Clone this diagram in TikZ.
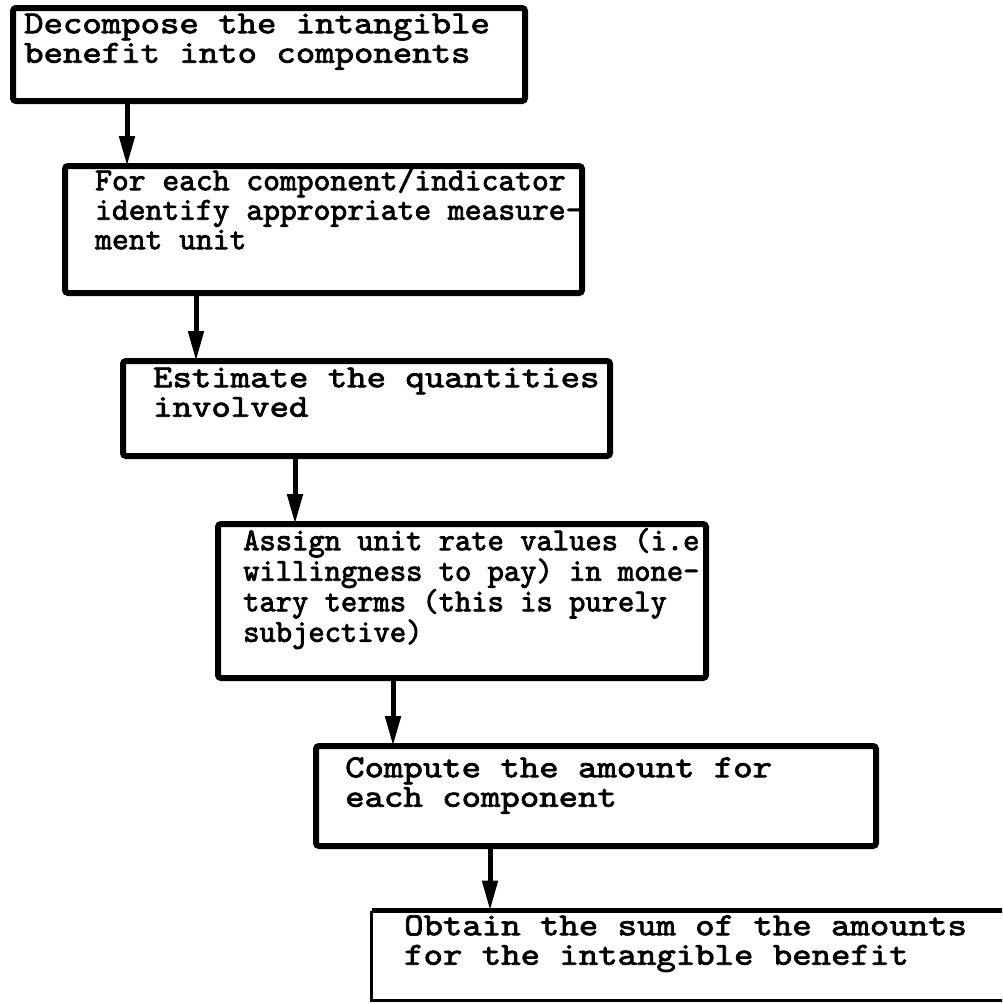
\documentclass[tikz,border=0pt]{standalone}
\usepackage{fontspec}
\newfontfamily\courwide{lmmono10-regular.otf}[FakeStretch=1.155, FakeBold=2.4]
\newfontfamily\courA{lmmono10-regular.otf}[FakeStretch=1.0, FakeBold=2.4]
\newfontfamily\courB{lmmono10-regular.otf}[FakeStretch=0.97, FakeBold=2.4]
\usetikzlibrary{arrows.meta}
\begin{document}
\begin{tikzpicture}[x=1pt,y=-1pt,
  box/.style={draw=black, line width=6pt, rounded corners=3pt, inner sep=0pt, outer sep=0pt, anchor=north west},
  openbox/.style={inner sep=0pt, outer sep=0pt, anchor=north west},
  txt/.style={anchor=north west, inner sep=0pt, align=left, font=\courwide\fontsize{32}{29.5}\selectfont},
  txtA/.style={txt, font=\courA\fontsize{32}{29.5}\selectfont},
  txtB/.style={txt, font=\courB\fontsize{32}{29.5}\selectfont},
  flow/.style={line width=5pt, -{Triangle[width=15pt,length=30pt]}}]
\useasboundingbox (0,0) rectangle (1002,1004);
\clip (0,0) rectangle (1002,1004);
% boxes
\node[box, minimum width=512pt, minimum height=93pt] (b1) at (13,8) {};
\node[box, minimum width=517pt, minimum height=127pt] (b2) at (65,166) {};
\node[box, minimum width=487pt, minimum height=95pt] (b3) at (123,361) {};
\node[box, minimum width=488pt, minimum height=154pt] (b4) at (218,524) {};
\node[box, minimum width=560pt, minimum height=100pt] (b5) at (316,746) {};
\node[openbox, minimum width=660pt, minimum height=90pt] (b6) at (371.5,910.5) {};
\draw[line width=5pt] (b6.north east) -- (b6.north west);
\draw[line width=3pt] (b6.north west) -- (b6.south west) -- (b6.south east);
% texts
\node[txt] (t1) at (24,5) {\rule{0pt}{28pt}Decompose the intangible\\benefit into components};
\node[txtA] (t2) at (95,162) {\rule{0pt}{28pt}For each component/indicator\\identify appropriate measure-\\ment unit};
\node[txt] (t3) at (153,359) {\rule{0pt}{28pt}Estimate the quantities\\involved};
\node[txtB] (t4) at (243,522) {\rule{0pt}{28pt}Assign unit rate values (i.e\\willingness to pay) in mone-\\tary terms (this is purely\\subjective)};
\node[txt] (t5) at (345,749) {\rule{0pt}{28pt}Compute the amount for\\each component};
\node[txt] (t6) at (404,907) {\rule{0pt}{28pt}Obtain the sum of the amounts\\for the intangible benefit};
% arrows
\draw[flow] ([xshift=114pt]b1.south west) -- ([xshift=62pt]b2.north west);
\draw[flow] ([xshift=131pt]b2.south west) -- ([xshift=73pt]b3.north west);
\draw[flow] ([xshift=172pt]b3.south west) -- ([xshift=77pt]b4.north west);
\draw[flow] ([xshift=175pt]b4.south west) -- ([xshift=77pt]b5.north west);
\draw[flow] ([xshift=174pt]b5.south west) -- ([xshift=118.5pt]b6.north west);
\end{tikzpicture}
\end{document}
